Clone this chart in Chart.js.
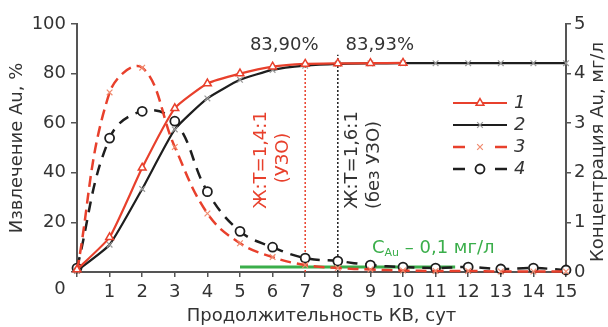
<!DOCTYPE html>
<html><head><meta charset="utf-8">
<script src="https://cdn.jsdelivr.net/npm/chart.js@4.4.1/dist/chart.umd.min.js"></script>
<style>html,body{margin:0;padding:0;background:#fff}</style>
</head><body>
<canvas id="c" width="608" height="327"></canvas>
<script>
// Leaching duration, days
const days = [0, 1, 2, 3, 4, 5, 6, 7, 8, 9, 10, 11, 12, 13, 14, 15];
// 1 – Au extraction with ultrasound (УЗО), %
const extractUzo = [1, 14, 42, 66, 76, 80, 82.8, 83.9, 84.1, 84.2, 84.3];
// 2 – Au extraction without ultrasound, %
const extractNoUzo = [0.5, 11, 33.5, 57.5, 70, 77.5, 81.5, 83.2, 83.93, 84.1, 84.2, 84.2, 84.2, 84.2, 84.2, 84.2];
// 3 – Au concentration in solution with ultrasound, mg/l
const concUzo = [0.02, 3.62, 4.12, 2.52, 1.18, 0.58, 0.3, 0.14, 0.08, 0.05, 0.03, 0.02, 0.02, 0.01, 0.01, 0.01];
// 4 – Au concentration in solution without ultrasound, mg/l
const concNoUzo = [0.08, 2.7, 3.24, 3.04, 1.62, 0.82, 0.5, 0.28, 0.22, 0.14, 0.1, 0.08, 0.1, 0.06, 0.08, 0.04];
// Threshold concentration line C_Au = 0,1 mg/l
const thresholdDays = [5, 11.6];
const thresholdConc = 0.1;
// Marked extraction plateaus: [day, %]
const plateauUzo = [7, 83.90];
const plateauNoUzo = [8, 83.93];
const markerTop = [83.9, 87.6];
const seriesLabels = ['1', '2', '3', '4'];

const RED = '#e8402c', BLACK = '#1e1e1e', GREEN = '#3aae4a', AXIS = '#555', TXT = '#333';
const FONT = '"DejaVu Sans", sans-serif';
const FS = 18;

const pts = (xs, ys) => ys.map((v, i) => ({x: xs[i], y: v}));

const overlay = {
  id: 'overlay',
  afterDraw(chart) {
    const {ctx, scales: {x}} = chart;
    ctx.save();
    ctx.textBaseline = 'middle';
    ctx.textAlign = 'center';
    ctx.font = FS + 'px ' + FONT;
    ctx.fillStyle = TXT;
    // origin label
    ctx.fillText('0', x.getPixelForValue(0) - 17, 289);
    // plateau values
    ctx.fillText('83,90%', x.getPixelForValue(plateauUzo[0]) - 21, 45);
    ctx.fillText('83,93%', x.getPixelForValue(plateauNoUzo[0]) + 42, 45);
    // rotated L:S annotations
    const rot = (txt, px, py, col) => {
      ctx.save(); ctx.translate(px, py); ctx.rotate(-Math.PI / 2);
      ctx.fillStyle = col; ctx.fillText(txt, 0, 0); ctx.restore();
    };
    const x7 = x.getPixelForValue(plateauUzo[0]), x8 = x.getPixelForValue(plateauNoUzo[0]);
    rot('Ж:Т=1,4:1', x7 - 44, 160, RED);
    rot('(УЗО)', x7 - 22, 158, RED);
    rot('Ж:Т=1,6:1', x8 + 15, 160, TXT);
    rot('(без УЗО)', x8 + 37, 165, TXT);
    // right axis title
    rot('Концентрация Au, мг/л', 598, 152, TXT);
    // threshold label
    ctx.textAlign = 'left';
    ctx.fillStyle = GREEN;
    let tx = 372, ty = 248;
    ctx.fillText('C', tx, ty); tx += ctx.measureText('C').width;
    ctx.font = '11px ' + FONT;
    ctx.fillText('Au', tx, ty + 5); tx += ctx.measureText('Au').width;
    ctx.font = FS + 'px ' + FONT;
    ctx.fillText(' – 0,1 мг/л', tx, ty);
    // legend
    const lx0 = 453, lx1 = 507, lmid = 480;
    const rows = [103, 125, 147, 169];
    chart.data.datasets.slice(0, 4).forEach((ds, i) => {
      const ry = rows[i];
      ctx.save();
      ctx.strokeStyle = ds.borderColor; ctx.lineWidth = ds.borderWidth;
      ctx.beginPath();
      if (ds.borderDash && ds.borderDash.length) {
        ctx.moveTo(lx0, ry); ctx.lineTo(lx0 + 12, ry);
        ctx.moveTo(lx1 - 12, ry); ctx.lineTo(lx1, ry);
      } else {
        ctx.moveTo(lx0, ry); ctx.lineTo(lx1, ry);
      }
      ctx.stroke();
      ctx.restore();
      ctx.save();
      ctx.strokeStyle = ds.pointBorderColor;
      ctx.fillStyle = ds.pointBackgroundColor;
      ctx.lineWidth = ds.pointBorderWidth;
      Chart.helpers.drawPoint(ctx, {pointStyle: ds.pointStyle, radius: ds.pointRadius, borderWidth: ds.pointBorderWidth, rotation: 0}, lmid, ry);
      ctx.restore();
      ctx.fillStyle = TXT;
      ctx.font = 'italic ' + FS + 'px ' + FONT;
      ctx.textAlign = 'left';
      ctx.fillText(seriesLabels[i], 514, ry);
    });
    ctx.restore();
  }
};

const tickFont = {family: FONT, size: FS};

new Chart(document.getElementById('c'), {
  type: 'line',
  data: {
    datasets: [
      {
        label: seriesLabels[0], data: pts(days, extractUzo), yAxisID: 'y',
        borderColor: RED, borderWidth: 2.2, tension: 0.15,
        pointStyle: 'triangle', pointRadius: 4.5, pointBorderWidth: 1.5,
        pointBorderColor: RED, pointBackgroundColor: '#fff'
      },
      {
        label: seriesLabels[1], data: pts(days, extractNoUzo), yAxisID: 'y',
        borderColor: BLACK, borderWidth: 2.2, tension: 0.15,
        pointStyle: 'crossRot', pointRadius: 4, pointBorderWidth: 1.2,
        pointBorderColor: '#999', pointBackgroundColor: '#999'
      },
      {
        label: seriesLabels[2], data: pts(days, concUzo), yAxisID: 'y2',
        borderColor: RED, borderWidth: 2.5, borderDash: [11, 6], tension: 0.4,
        pointStyle: 'crossRot', pointRadius: 4, pointBorderWidth: 1.2,
        pointBorderColor: '#f08a6e', pointBackgroundColor: '#f08a6e'
      },
      {
        label: seriesLabels[3], data: pts(days, concNoUzo), yAxisID: 'y2',
        borderColor: BLACK, borderWidth: 2.5, borderDash: [11, 8], tension: 0.4,
        pointStyle: 'circle', pointRadius: 4.5, pointBorderWidth: 1.8,
        pointBorderColor: BLACK, pointBackgroundColor: '#fff'
      },
      {
        label: 'C_Au', data: thresholdDays.map(d => ({x: d, y: thresholdConc})), yAxisID: 'y2',
        borderColor: GREEN, borderWidth: 3, pointRadius: 0
      },
      {
        label: 'L:S 1,4:1', data: [{x: plateauUzo[0], y: 0}, {x: plateauUzo[0], y: markerTop[0]}], yAxisID: 'y',
        borderColor: RED, borderWidth: 1.5, borderDash: [2, 2], pointRadius: 0
      },
      {
        label: 'L:S 1,6:1', data: [{x: plateauNoUzo[0], y: 0}, {x: plateauNoUzo[0], y: markerTop[1]}], yAxisID: 'y',
        borderColor: BLACK, borderWidth: 1.5, borderDash: [2, 2], pointRadius: 0
      }
    ]
  },
  options: {
    responsive: false, animation: false, devicePixelRatio: 1,
    clip: false,
    layout: {padding: {top: 24, left: 0, right: 0, bottom: 0}},
    plugins: {legend: {display: false}, tooltip: {enabled: false}},
    scales: {
      x: {
        type: 'linear', min: 0, max: 15,
        afterFit: s => { s.height = 55; },
        ticks: {stepSize: 1, color: TXT, font: tickFont, padding: 5,
          callback: v => v === 0 ? '' : String(v), maxRotation: 0, autoSkip: false},
        grid: {drawOnChartArea: false, drawTicks: true, tickLength: 5, color: AXIS, lineWidth: 1.5},
        border: {color: AXIS, width: 2},
        title: {display: true, text: 'Продолжительность КВ, сут', color: TXT,
          font: {family: FONT, size: FS, lineHeight: 1.2}, padding: {top: 3, bottom: 0}}
      },
      y: {
        position: 'left', min: 0, max: 100,
        afterFit: s => { s.width = 77; },
        ticks: {stepSize: 20, color: TXT, font: tickFont, padding: 5,
          callback: v => v === 0 ? '' : String(v)},
        grid: {drawOnChartArea: false, drawTicks: true, tickLength: 6, color: AXIS, lineWidth: 1.5},
        border: {color: AXIS, width: 2},
        title: {display: true, text: 'Извлечение Au, %', color: TXT,
          font: {family: FONT, size: FS, lineHeight: 1.2}, padding: {top: 7, bottom: 0}}
      },
      y2: {
        position: 'right', min: 0, max: 5,
        afterFit: s => { s.width = 42; },
        ticks: {stepSize: 1, color: TXT, font: tickFont, padding: 3},
        grid: {drawOnChartArea: false, drawTicks: true, tickLength: 5, color: AXIS, lineWidth: 1.5},
        border: {color: AXIS, width: 2}
      }
    }
  },
  plugins: [overlay]
});
</script>
</body></html>
